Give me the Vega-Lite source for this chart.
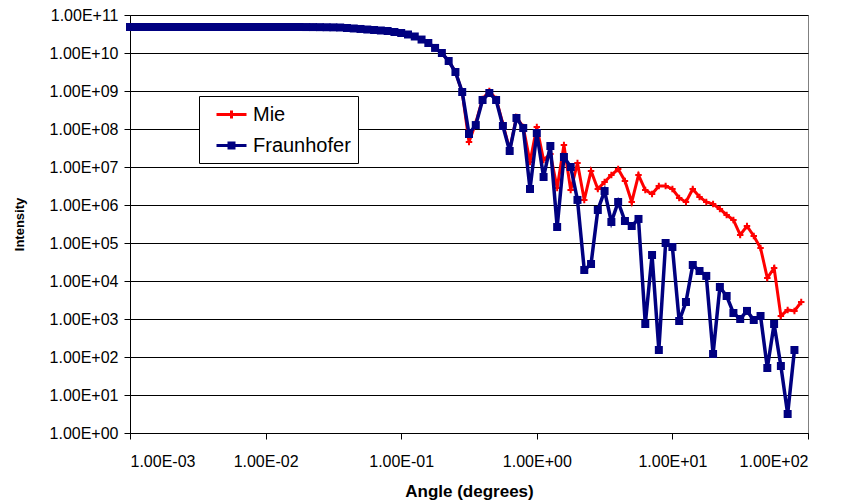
{
  "$schema": "https://vega.github.io/schema/vega-lite/v6.json",
  "width": 678,
  "height": 418,
  "autosize": {"type": "none"},
  "padding": {"left": 130, "top": 15, "right": 38, "bottom": 71},
  "background": "white",
  "config": {
    "view": {"stroke": "#808080", "strokeWidth": 1},
    "font": "Liberation Sans",
    "axis": {"labelFont": "Liberation Sans", "titleFont": "Liberation Sans", "labelColor": "#000", "titleColor": "#000", "domainColor": "#000", "tickColor": "#000", "labelFontSize": 16, "tickSize": 6, "titleFontWeight": "bold"}
  },
  "data": {"values": [
    {"angle": 0.001, "Mie": 4.83e10, "Fraunhofer": 4.83e10},
    {"angle": 0.001122, "Mie": 4.83e10, "Fraunhofer": 4.83e10},
    {"angle": 0.001259, "Mie": 4.83e10, "Fraunhofer": 4.83e10},
    {"angle": 0.001413, "Mie": 4.83e10, "Fraunhofer": 4.83e10},
    {"angle": 0.001585, "Mie": 4.83e10, "Fraunhofer": 4.83e10},
    {"angle": 0.001778, "Mie": 4.83e10, "Fraunhofer": 4.83e10},
    {"angle": 0.001995, "Mie": 4.83e10, "Fraunhofer": 4.83e10},
    {"angle": 0.002239, "Mie": 4.83e10, "Fraunhofer": 4.83e10},
    {"angle": 0.002512, "Mie": 4.83e10, "Fraunhofer": 4.83e10},
    {"angle": 0.002818, "Mie": 4.83e10, "Fraunhofer": 4.83e10},
    {"angle": 0.003162, "Mie": 4.83e10, "Fraunhofer": 4.83e10},
    {"angle": 0.003548, "Mie": 4.83e10, "Fraunhofer": 4.83e10},
    {"angle": 0.003981, "Mie": 4.83e10, "Fraunhofer": 4.83e10},
    {"angle": 0.004467, "Mie": 4.83e10, "Fraunhofer": 4.83e10},
    {"angle": 0.005012, "Mie": 4.83e10, "Fraunhofer": 4.83e10},
    {"angle": 0.005623, "Mie": 4.83e10, "Fraunhofer": 4.83e10},
    {"angle": 0.00631, "Mie": 4.83e10, "Fraunhofer": 4.83e10},
    {"angle": 0.007079, "Mie": 4.83e10, "Fraunhofer": 4.83e10},
    {"angle": 0.007943, "Mie": 4.83e10, "Fraunhofer": 4.83e10},
    {"angle": 0.008913, "Mie": 4.83e10, "Fraunhofer": 4.83e10},
    {"angle": 0.01, "Mie": 4.83e10, "Fraunhofer": 4.83e10},
    {"angle": 0.01122, "Mie": 4.83e10, "Fraunhofer": 4.83e10},
    {"angle": 0.01259, "Mie": 4.83e10, "Fraunhofer": 4.83e10},
    {"angle": 0.01413, "Mie": 4.83e10, "Fraunhofer": 4.83e10},
    {"angle": 0.01585, "Mie": 4.83e10, "Fraunhofer": 4.83e10},
    {"angle": 0.01778, "Mie": 4.83e10, "Fraunhofer": 4.83e10},
    {"angle": 0.01995, "Mie": 4.82e10, "Fraunhofer": 4.82e10},
    {"angle": 0.02239, "Mie": 4.81e10, "Fraunhofer": 4.81e10},
    {"angle": 0.02512, "Mie": 4.79e10, "Fraunhofer": 4.79e10},
    {"angle": 0.02818, "Mie": 4.76e10, "Fraunhofer": 4.76e10},
    {"angle": 0.03162, "Mie": 4.73e10, "Fraunhofer": 4.73e10},
    {"angle": 0.03548, "Mie": 4.69e10, "Fraunhofer": 4.69e10},
    {"angle": 0.03981, "Mie": 4.55e10, "Fraunhofer": 4.55e10},
    {"angle": 0.04467, "Mie": 4.42e10, "Fraunhofer": 4.42e10},
    {"angle": 0.05012, "Mie": 4.29e10, "Fraunhofer": 4.29e10},
    {"angle": 0.05623, "Mie": 4.15e10, "Fraunhofer": 4.15e10},
    {"angle": 0.0631, "Mie": 4.03e10, "Fraunhofer": 4.03e10},
    {"angle": 0.07079, "Mie": 3.91e10, "Fraunhofer": 3.91e10},
    {"angle": 0.07943, "Mie": 3.79e10, "Fraunhofer": 3.79e10},
    {"angle": 0.08913, "Mie": 3.57e10, "Fraunhofer": 3.57e10},
    {"angle": 0.1, "Mie": 3.36e10, "Fraunhofer": 3.36e10},
    {"angle": 0.1122, "Mie": 3.07e10, "Fraunhofer": 3.07e10},
    {"angle": 0.1259, "Mie": 2.72e10, "Fraunhofer": 2.72e10},
    {"angle": 0.1413, "Mie": 2.26e10, "Fraunhofer": 2.26e10},
    {"angle": 0.1585, "Mie": 1.83e10, "Fraunhofer": 1.83e10},
    {"angle": 0.1778, "Mie": 1.36e10, "Fraunhofer": 1.36e10},
    {"angle": 0.1995, "Mie": 1.0e10, "Fraunhofer": 1.0e10},
    {"angle": 0.2239, "Mie": 6.15e9, "Fraunhofer": 6.15e9},
    {"angle": 0.2512, "Mie": 3.16e9, "Fraunhofer": 3.16e9},
    {"angle": 0.2818, "Mie": 9.42e8, "Fraunhofer": 9.42e8},
    {"angle": 0.3162, "Mie": 4.55e7, "Fraunhofer": 7.38e7},
    {"angle": 0.3548, "Mie": 1.44e8, "Fraunhofer": 1.27e8},
    {"angle": 0.3981, "Mie": 6.15e8, "Fraunhofer": 5.79e8},
    {"angle": 0.4467, "Mie": 1.0e9, "Fraunhofer": 8.85e8},
    {"angle": 0.5012, "Mie": 6.15e8, "Fraunhofer": 5.79e8},
    {"angle": 0.5623, "Mie": 1.36e8, "Fraunhofer": 1.2e8},
    {"angle": 0.631, "Mie": 2.8e7, "Fraunhofer": 2.64e7},
    {"angle": 0.7079, "Mie": 2.07e8, "Fraunhofer": 1.95e8},
    {"angle": 0.7943, "Mie": 1.13e8, "Fraunhofer": 1.06e8},
    {"angle": 0.8913, "Mie": 1.36e7, "Fraunhofer": 2.64e6},
    {"angle": 1.0, "Mie": 1.13e8, "Fraunhofer": 7.85e7},
    {"angle": 1.122, "Mie": 1.53e7, "Fraunhofer": 5.46e6},
    {"angle": 1.259, "Mie": 2.2e7, "Fraunhofer": 3.57e7},
    {"angle": 1.413, "Mie": 2.8e6, "Fraunhofer": 2.64e5},
    {"angle": 1.585, "Mie": 3.79e7, "Fraunhofer": 1.83e7},
    {"angle": 1.778, "Mie": 2.48e6, "Fraunhofer": 1.0e7},
    {"angle": 1.995, "Mie": 1.27e7, "Fraunhofer": 1.36e6},
    {"angle": 2.239, "Mie": 1.36e6, "Fraunhofer": 1.95e4},
    {"angle": 2.512, "Mie": 7.85e6, "Fraunhofer": 2.8e4},
    {"angle": 2.818, "Mie": 2.64e6, "Fraunhofer": 7.38e5},
    {"angle": 3.162, "Mie": 4.03e6, "Fraunhofer": 2.33e6},
    {"angle": 3.548, "Mie": 6.15e6, "Fraunhofer": 3.57e5},
    {"angle": 3.981, "Mie": 8.85e6, "Fraunhofer": 1.2e6},
    {"angle": 4.467, "Mie": 4.29e6, "Fraunhofer": 3.79e5},
    {"angle": 5.012, "Mie": 1.2e6, "Fraunhofer": 2.8e5},
    {"angle": 5.623, "Mie": 6.15e6, "Fraunhofer": 4.29e5},
    {"angle": 6.31, "Mie": 2.48e6, "Fraunhofer": 7.38e2},
    {"angle": 7.079, "Mie": 1.95e6, "Fraunhofer": 4.83e4},
    {"angle": 7.943, "Mie": 3.16e6, "Fraunhofer": 1.53e2},
    {"angle": 8.913, "Mie": 3.16e6, "Fraunhofer": 1.0e5},
    {"angle": 10.0, "Mie": 2.64e6, "Fraunhofer": 7.85e4},
    {"angle": 11.22, "Mie": 1.53e6, "Fraunhofer": 8.85e2},
    {"angle": 12.59, "Mie": 1.2e6, "Fraunhofer": 2.8e3},
    {"angle": 14.13, "Mie": 2.64e6, "Fraunhofer": 2.64e4},
    {"angle": 15.85, "Mie": 1.63e6, "Fraunhofer": 1.83e4},
    {"angle": 17.78, "Mie": 1.2e6, "Fraunhofer": 1.36e4},
    {"angle": 19.95, "Mie": 1.06e6, "Fraunhofer": 1.2e2},
    {"angle": 22.39, "Mie": 7.85e5, "Fraunhofer": 6.95e3},
    {"angle": 25.12, "Mie": 5.46e5, "Fraunhofer": 4.03e3},
    {"angle": 28.18, "Mie": 4.03e5, "Fraunhofer": 1.44e3},
    {"angle": 31.62, "Mie": 1.63e5, "Fraunhofer": 1.0e3},
    {"angle": 35.48, "Mie": 2.8e5, "Fraunhofer": 1.63e3},
    {"angle": 39.81, "Mie": 1.53e5, "Fraunhofer": 9.42e2},
    {"angle": 44.67, "Mie": 7.38e4, "Fraunhofer": 1.2e3},
    {"angle": 50.12, "Mie": 1.2e4, "Fraunhofer": 5.14e1},
    {"angle": 56.23, "Mie": 2.2e4, "Fraunhofer": 7.38e2},
    {"angle": 63.1, "Mie": 1.2e3, "Fraunhofer": 5.79e1},
    {"angle": 70.79, "Mie": 1.73e3, "Fraunhofer": 3.16},
    {"angle": 79.43, "Mie": 1.63e3, "Fraunhofer": 1.53e2},
    {"angle": 89.13, "Mie": 2.8e3}
  ]},
  "encoding": {
    "x": {"field": "angle", "type": "quantitative",
      "scale": {"type": "log", "domain": [0.001, 100], "nice": false},
      "axis": {"title": "Angle (degrees)", "titleFontSize": 17, "titleY": 63, "titleBaseline": "alphabetic", "grid": false,
        "values": [0.001, 0.01, 0.1, 1, 10, 100], "labelPadding": 14,
        "labelExpr": "'1.00E' + (datum.value < 1 ? '-' : '+') + (abs(round(log(datum.value)/LN10)) < 10 ? '0' : '') + abs(round(log(datum.value)/LN10))"}}
  },
  "layer": [
    {
      "mark": {"type": "line", "strokeWidth": 3, "clip": true},
      "encoding": {
        "y": {"field": "Mie", "type": "quantitative",
          "scale": {"type": "log", "domain": [1, 100000000000], "nice": false},
          "axis": {"title": "Intensity", "titleFontSize": 13, "titleX": -111, "titleY": 209, "titleAngle": -90, "titleBaseline": "middle", "titleAlign": "center",
            "grid": true, "gridColor": "#000", "gridWidth": 1, "gridOpacity": 1, "labelPadding": 6,
            "values": [1, 10, 100, 1000, 10000, 100000, 1000000, 10000000, 100000000, 1000000000, 10000000000, 100000000000],
            "labelExpr": "'1.00E' + (datum.value < 1 ? '-' : '+') + (abs(round(log(datum.value)/LN10)) < 10 ? '0' : '') + abs(round(log(datum.value)/LN10))"}},
        "color": {"datum": "Mie", "type": "nominal",
          "scale": {"domain": ["Mie", "Fraunhofer"], "range": ["#ff0000", "#000080"]},
          "legend": {"orient": "none", "legendX": 69, "legendY": 81, "title": null,
            "fillColor": "white", "strokeColor": "#000", "padding": 7,
            "labelFont": "Liberation Sans", "labelFontSize": 20, "labelColor": "#000",
            "symbolSize": 400, "symbolOffset": 14, "labelOffset": 10, "rowPadding": 9, "symbolStrokeWidth": 3,
            "encode": {"symbols": {"update": {
              "shape": {"signal": "datum.value == 'Mie' ? 'M-1.5,0H1.5M0,-0.4V0.4' : 'M-1.5,0H1.5M-0.25,-0.25H0.25V0.25H-0.25Z'"},
              "fill": {"signal": "datum.value == 'Mie' ? '#ff0000' : '#000080'"},
              "stroke": {"signal": "datum.value == 'Mie' ? '#ff0000' : '#000080'"},
              "strokeWidth": {"value": 3}}}}}}
      }
    },
    {
      "mark": {"type": "point", "shape": "M-1,0H1M0,-1V1", "filled": false, "size": 42, "strokeWidth": 2, "opacity": 1},
      "encoding": {
        "y": {"field": "Mie", "type": "quantitative"},
        "color": {"datum": "Mie", "type": "nominal"}
      }
    },
    {
      "mark": {"type": "line", "strokeWidth": 3.5},
      "encoding": {
        "y": {"field": "Fraunhofer", "type": "quantitative"},
        "color": {"datum": "Fraunhofer", "type": "nominal"}
      }
    },
    {
      "mark": {"type": "point", "shape": "square", "filled": true, "size": 64, "opacity": 1},
      "encoding": {
        "y": {"field": "Fraunhofer", "type": "quantitative"},
        "color": {"datum": "Fraunhofer", "type": "nominal"}
      }
    }
  ]
}
